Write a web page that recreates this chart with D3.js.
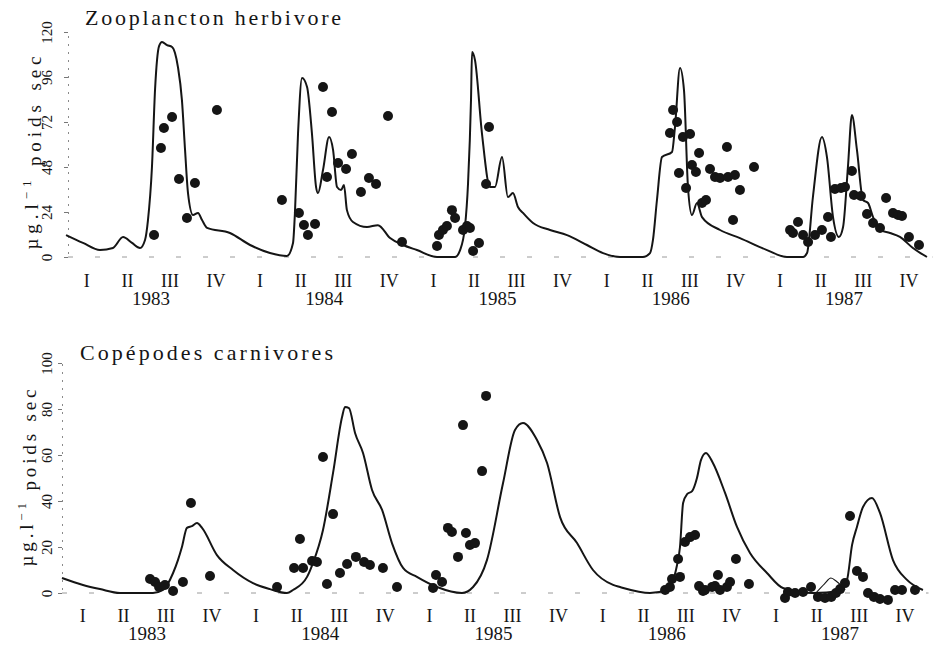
<!DOCTYPE html>
<html>
<head>
<meta charset="utf-8">
<script src="https://cdn.jsdelivr.net/npm/d3@7"></script>
<style>
  body { margin: 0; background: #fff; }
  svg { display: block; font-family: "Liberation Serif", "DejaVu Serif", serif; }
</style>
</head>
<body>
<svg id="chart" width="934" height="650"></svg>
<script>
// Time is counted in years from 1 January 1983; biomass in µg.l-1 dry weight.
const years = ["1983", "1984", "1985", "1986", "1987"];
const quarters = ["I", "II", "III", "IV"];
const quarterPos = [0.12, 0.355, 0.6, 0.865];
const yearPos = 0.49;
const herbTicks = [0, 24, 48, 72, 96, 120];
const carnTicks = [0, 20, 40, 60, 80, 100];

// Herbivorous zooplankton: simulated curve [time, value]
const herbModel = [
  [0,11.7],[0.098,7.5],[0.196,3.7],[0.271,4.8],[0.329,10.7],[0.381,7.5],[0.427,4.8],[0.456,9.1],
  [0.473,19.7],[0.496,48],[0.514,89.6],[0.537,112.5],[0.554,114.7],[0.583,113],[0.612,112],[0.629,108.8],
  [0.646,101.3],[0.669,83.7],[0.687,57],[0.704,34.1],[0.733,22.4],[0.762,23.5],[0.785,19.7],[0.814,15.5],
  [0.946,12.8],[1.062,6.4],[1.177,2.1],[1.275,0.5],[1.310,7.5],[1.321,23.5],[1.339,66.1],[1.362,95.5],
  [1.391,90.7],[1.419,66.1],[1.443,37.3],[1.454,34.1],[1.483,46.4],[1.518,64],[1.541,57.1],[1.564,37.3],
  [1.587,35.7],[1.604,38.4],[1.621,25],[1.656,18.7],[1.737,16],[1.800,17],[1.870,10.1],[1.945,6.4],
  [2.025,3.7],[2.141,0],[2.245,0],[2.274,3.7],[2.302,16],[2.320,39.5],[2.337,83.7],[2.343,109.3],
  [2.360,105],[2.400,66.1],[2.447,37.3],[2.475,37.3],[2.516,53.3],[2.550,32],[2.579,34.1],[2.608,26.7],
  [2.637,23.5],[2.695,18.1],[2.793,14.4],[2.891,11.7],[3.006,6.4],[3.099,2.1],[3.197,0],[3.329,0],
  [3.370,2.1],[3.387,9.1],[3.410,30.4],[3.439,53.3],[3.497,56],[3.514,69.3],[3.543,100.8],[3.566,89],
  [3.589,37.3],[3.612,22.4],[3.641,28.8],[3.670,21.3],[3.774,14.4],[3.889,10.1],[4.045,3.7],[4.160,0],
  [4.253,0],[4.276,2.1],[4.310,32],[4.362,64],[4.391,53.3],[4.426,21.3],[4.460,10.7],[4.484,16],
  [4.512,48],[4.535,75.7],[4.564,57.1],[4.599,30.4],[4.628,28.8],[4.657,21.3],[4.697,14.4],[4.755,12.8],
  [4.812,10.7],[4.887,4.8],[4.968,0]
];

// Herbivorous zooplankton: field samples [time, value]
const herbObs = [
  [0.508,11.7],[0.548,58.1],[0.565,68.8],[0.612,74.7],[0.652,41.6],[0.698,20.8],[0.744,39.5],[0.871,78.4],
  [1.246,30.4],[1.344,23.5],[1.373,17.1],[1.396,11.7],[1.437,17.6],[1.483,90.7],[1.506,42.7],[1.535,77.3],
  [1.570,50.1],[1.616,46.9],[1.650,54.9],[1.702,34.7],[1.748,42.1],[1.789,38.9],[1.858,75.2],[1.939,8],
  [2.141,5.9],[2.152,11.7],[2.175,14.4],[2.198,16.5],[2.227,25],[2.245,20.8],[2.291,14.4],[2.314,16.5],
  [2.331,15.5],[2.349,3.2],[2.383,7.5],[2.424,38.9],[2.441,69.3],
  [3.485,66.1],[3.503,78.4],[3.526,72],[3.537,44.8],[3.560,64],[3.578,36.8],[3.601,65.6],[3.612,49.1],
  [3.635,45.3],[3.653,55.5],[3.670,28.8],[3.693,30.4],[3.716,46.9],[3.745,42.7],[3.774,42.1],[3.814,58.7],
  [3.820,42.7],[3.849,19.7],[3.860,43.7],[3.889,35.7],[3.970,48],
  [4.178,14.4],[4.195,12.8],[4.224,18.7],[4.253,11.7],[4.282,8],[4.322,11.7],[4.362,14.4],[4.397,21.3],
  [4.414,10.7],[4.437,36.3],[4.472,36.8],[4.495,37.3],[4.535,45.9],[4.547,33.1],[4.587,32.5],[4.622,22.9],
  [4.657,18.1],[4.697,15.5],[4.732,31.5],[4.772,23.5],[4.801,22.4],[4.824,21.9],[4.864,10.7],[4.922,6.4]
];

// Carnivorous copepods: simulated curve [time, value]
const carnModel = [
  [0,6.5],[0.121,3.5],[0.219,1.7],[0.335,0],[0.525,0],[0.583,1.3],[0.641,8.7],[0.669,14.3],
  [0.692,20],[0.721,28.3],[0.750,29.1],[0.779,30.4],[0.808,28.3],[0.894,16.5],[0.987,10],[1.102,4.3],
  [1.200,1.7],[1.298,0],[1.333,1.3],[1.414,7],[1.448,13],[1.506,27.4],[1.564,52.2],[1.616,76.5],
  [1.633,80.9],[1.656,80.4],[1.691,69.6],[1.737,60.9],[1.789,44.8],[1.847,36.1],[1.904,21.7],[1.968,10.9],
  [2.048,7],[2.164,2.6],[2.308,0],[2.372,2.6],[2.452,14.3],[2.545,47.8],[2.614,70.9],[2.660,73.9],
  [2.741,66.5],[2.799,56.5],[2.874,33],[2.972,21.7],[3.064,10],[3.180,3.5],[3.220,2.6],[3.393,0],
  [3.491,1.3],[3.549,12.2],[3.566,20],[3.584,39.1],[3.607,43],[3.636,44.3],[3.664,50],[3.687,57.8],
  [3.716,60.9],[3.756,56.5],[3.826,43.5],[3.895,28.7],[3.970,17.4],[4.068,8.7],[4.160,2.2],[4.333,0],
  [4.489,0.9],[4.530,5.7],[4.559,20.9],[4.587,28.7],[4.622,37.4],[4.674,41.3],[4.720,34.8],[4.795,14.3],
  [4.876,5.7],[4.968,1.3]
];

// Carnivorous copepods: small secondary curve early in 1987 [time, value]
const carnModelAlt = [[4.35,0],[4.40,4],[4.437,6.5],[4.47,5],[4.50,3],[4.52,1.5]];

// Carnivorous copepods: field samples [time, value]
const carnObs = [
  [0.508,6.1],[0.537,4.8],[0.560,2.6],[0.594,3.5],[0.641,0.9],[0.698,4.8],[0.744,39.1],[0.854,7.4],
  [1.241,2.6],[1.339,10.9],[1.373,23.5],[1.391,10.9],[1.443,13.9],[1.471,13.5],[1.506,59.1],[1.529,3.9],
  [1.564,34.3],[1.604,8.7],[1.645,12.6],[1.696,15.7],[1.743,13.5],[1.777,12.2],[1.852,10.9],[1.933,2.6],
  [2.141,2.2],[2.158,7.8],[2.193,4.8],[2.227,28.3],[2.250,26.5],[2.285,15.7],[2.314,73],[2.331,26.1],
  [2.354,20.9],[2.383,21.7],[2.424,53],[2.447,85.7],
  [3.480,1.3],[3.508,2.6],[3.520,6.1],[3.555,14.8],[3.566,7],[3.595,22.2],[3.624,24.3],[3.653,25.2],
  [3.676,3],[3.699,0.9],[3.710,1.3],[3.751,2.6],[3.768,3],[3.785,7.8],[3.797,1.3],[3.837,2.6],
  [3.855,4.8],[3.889,14.8],[3.964,3.9],
  [4.172,-2.2],[4.189,0.4],[4.230,0],[4.276,0.4],[4.322,2.6],[4.362,-1.7],[4.403,-2.2],[4.439,-1.7],
  [4.466,0],[4.490,1.7],[4.518,4.3],[4.547,33.5],[4.587,9.6],[4.622,7],[4.651,0],[4.685,-1.7],
  [4.720,-2.6],[4.766,-3],[4.807,1.3],[4.847,1.3],[4.922,1.3]
];

const svg = d3.select("#chart");
const ink = "#151515";

const panels = [
  {
    title: "Zooplancton herbivore", titleX: 85, titleY: 25, titleLen: 256,
    left: 66, axisX: 68, yBottom: 257, yTop: 32, yMax: 120, ticks: herbTicks,
    unitX: 31, unitMid: 153, unitLen: 193,
    qLabelY: 287, yearLabelY: 305,
    model: herbModel, alt: null, obs: herbObs
  },
  {
    title: "Copépodes carnivores", titleX: 80, titleY: 360, titleLen: 253,
    left: 62, axisX: 62, yBottom: 593, yTop: 363, yMax: 100, ticks: carnTicks,
    unitX: 26, unitMid: 478, unitLen: 177,
    qLabelY: 622, yearLabelY: 640,
    model: carnModel, alt: carnModelAlt, obs: carnObs
  }
];

const yearWidth = 173.3;

panels.forEach(p => {
  const x = d3.scaleLinear().domain([0, years.length]).range([p.left, p.left + yearWidth * years.length]);
  const y = d3.scaleLinear().domain([0, p.yMax]).range([p.yBottom, p.yTop]);
  const g = svg.append("g");

  // panel title
  g.append("text")
    .attr("x", p.titleX).attr("y", p.titleY)
    .attr("font-size", 22).attr("fill", ink)
    .attr("textLength", p.titleLen).attr("lengthAdjust", "spacing")
    .text(p.title);

  // vertical axis: faint dotted spine, short ticks, rotated labels
  const yAxis = d3.axisLeft(y).tickValues(p.ticks).tickSize(4).tickPadding(0);
  const ag = g.append("g").attr("transform", `translate(${p.axisX},0)`).call(yAxis);
  ag.select(".domain").attr("stroke", "#8a8a8a").attr("stroke-dasharray", "2,6");
  ag.selectAll(".tick line").attr("stroke", "#777");
  ag.selectAll(".tick text")
    .attr("x", null).attr("dy", "0.35em")
    .attr("transform", `translate(${47 - p.axisX},0) rotate(-90)`)
    .attr("text-anchor", "middle")
    .attr("font-family", "Liberation Serif, serif")
    .attr("font-size", 15).attr("fill", ink);

  // unit label
  const ut = g.append("text")
    .attr("transform", `translate(${p.unitX},${p.unitMid}) rotate(-90)`)
    .attr("text-anchor", "middle").attr("dy", "0.35em")
    .attr("font-size", 19).attr("fill", ink)
    .attr("textLength", p.unitLen).attr("lengthAdjust", "spacing");
  ut.append("tspan").text("µg.l");
  ut.append("tspan").attr("dy", "-0.55em").attr("font-size", 13).text("−1");
  ut.append("tspan").attr("dy", "0.55em").text(" poids sec");

  // faint horizontal baseline
  g.append("line")
    .attr("x1", p.axisX).attr("x2", x(years.length))
    .attr("y1", y(0)).attr("y2", y(0))
    .attr("stroke", "#9a9a9a").attr("stroke-width", 1)
    .attr("stroke-dasharray", "5,22");

  // quarter and year labels
  years.forEach((yr, i) => {
    quarters.forEach((q, j) => {
      g.append("text")
        .attr("x", x(i + quarterPos[j])).attr("y", p.qLabelY)
        .attr("text-anchor", "middle").attr("font-size", 18).attr("fill", ink)
        .text(q);
    });
    g.append("text")
      .attr("x", x(i + yearPos)).attr("y", p.yearLabelY)
      .attr("text-anchor", "middle").attr("font-size", 19).attr("fill", ink)
      .text(yr);
  });

  const line = d3.line()
    .x(d => x(d[0])).y(d => y(d[1]))
    .curve(d3.curveMonotoneX);

  g.append("path").datum(p.model)
    .attr("d", line).attr("fill", "none")
    .attr("stroke", ink).attr("stroke-width", 2).attr("stroke-linejoin", "round");

  if (p.alt) {
    g.append("path").datum(p.alt)
      .attr("d", line).attr("fill", "none")
      .attr("stroke", ink).attr("stroke-width", 1.1);
  }

  g.append("g").selectAll("circle").data(p.obs).join("circle")
    .attr("cx", d => x(d[0])).attr("cy", d => y(d[1]))
    .attr("r", 5).attr("fill", ink);
});
</script>
</body>
</html>
